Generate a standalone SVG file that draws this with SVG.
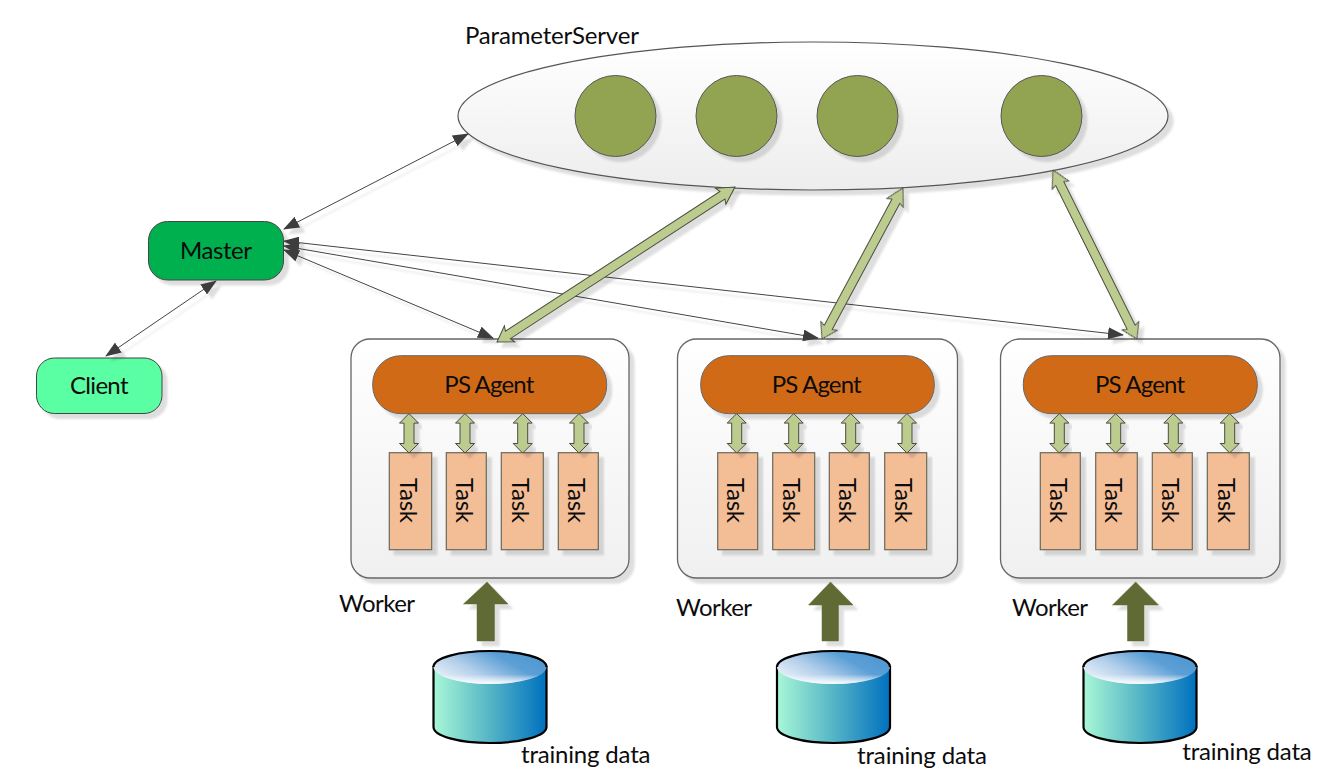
<svg xmlns="http://www.w3.org/2000/svg" width="1329" height="772" viewBox="0 0 1329 772">
<style>
text{font-family:"Lato","Open Sans","Liberation Sans",sans-serif;font-size:24px;fill:#0c0c0c}
.s{filter:url(#sh)}
.ps{fill:url(#gp);stroke:#555;stroke-width:1.2}
.w{fill:url(#gw);stroke:#666;stroke-width:1.3}
.ag{fill:#d16b19;stroke:#666;stroke-width:1}
.t{fill:#f3bd96;stroke:#6a6a5a;stroke-width:1.2}
.c{fill:#92a351;stroke:#555;stroke-width:1}
.da{fill:#bccb8e;stroke:#4a4a40;stroke-width:1}
.ln{stroke:#444;stroke-width:1;fill:none;marker-start:url(#ah);marker-end:url(#ah)}
.up{fill:#5f6b35;stroke:#5f6b35;stroke-width:.5}
.cb{fill:url(#gb);stroke:#000;stroke-width:2.2}
.ct{fill:url(#gt)}
.cf{fill:url(#gf)}
.ca{fill:none;stroke:#000;stroke-width:2.2}
</style>
<defs>
<filter id="sh" x="-10%" y="-10%" width="125%" height="125%"><feDropShadow dx="5" dy="5" stdDeviation="0.9" flood-color="#000" flood-opacity="0.13"/></filter>
<linearGradient id="gp" x1="0" y1="0" x2="0" y2="1"><stop offset="0" stop-color="#fff"/><stop offset="1" stop-color="#ededed"/></linearGradient>
<linearGradient id="gw" x1="0" y1="0" x2="0" y2="1"><stop offset="0" stop-color="#fff"/><stop offset="1" stop-color="#f0f0f0"/></linearGradient>
<linearGradient id="gb" x1="0" y1="0" x2="1" y2="0"><stop offset="0" stop-color="#a8f7d6"/><stop offset="0.5" stop-color="#55b5c6"/><stop offset="1" stop-color="#0070bf"/></linearGradient>
<linearGradient id="gt" x1="0" y1="0.8" x2="1" y2="0.25"><stop offset="0" stop-color="#eef4fa"/><stop offset="0.35" stop-color="#b3cfea"/><stop offset="0.7" stop-color="#5b9fd6"/><stop offset="1" stop-color="#4f97d0"/></linearGradient>
<linearGradient id="gf" x1="0" y1="0" x2="0" y2="1"><stop offset="0.72" stop-color="#fff" stop-opacity="0"/><stop offset="1" stop-color="#fff" stop-opacity="0.95"/></linearGradient>
<marker id="ah" viewBox="0 0 16 12" refX="15" refY="6" markerWidth="16" markerHeight="12" markerUnits="userSpaceOnUse" orient="auto-start-reverse"><path d="M0 0L16 6L0 12Z" fill="#3d3d3d"/></marker>
<g id="sd"><path class="da" d="M0-19.7L9.5-10.2H5V10.2H9.5L0 19.7L-9.5 10.2H-5V-10.2H-9.5Z"/></g>
</defs>

<g id="parameter-server">
<text x="465" y="43.5" textLength="174">ParameterServer</text>
<ellipse class="ps s" cx="813" cy="116" rx="355" ry="74"/>
<circle class="c s" cx="615.5" cy="116" r="40.5"/>
<circle class="c s" cx="736.5" cy="116" r="40.5"/>
<circle class="c s" cx="857.5" cy="116" r="40.5"/>
<circle class="c s" cx="1041.5" cy="116" r="40.5"/>
</g>

<g id="master"><rect class="s" x="148.5" y="221.5" width="135" height="58.5" rx="19" fill="#00b050" stroke="#444" stroke-width="1"/>
<text x="180" y="258.5" textLength="72">Master</text></g>
<g id="client"><rect class="s" x="36.5" y="358" width="125.5" height="55.5" rx="18" fill="#5affa3" stroke="#444" stroke-width="1"/>
<text x="70" y="393.5" textLength="58.5">Client</text></g>

<g id="worker-1">
<rect class="w s" x="351" y="339" width="278" height="239" rx="19"/>
<rect class="ag s" x="372.7" y="355.7" width="234" height="58" rx="28"/>
<text x="444.3" y="392.5" textLength="90">PS Agent</text>
<rect class="t s" x="389.3" y="452.7" width="42.4" height="97"/>
<rect class="t s" x="446.3" y="452.7" width="40" height="97"/>
<rect class="t s" x="501.3" y="452.7" width="42" height="97"/>
<rect class="t s" x="558.3" y="452.7" width="40" height="97"/>
<text transform="translate(400 478) rotate(90)" textLength="45">Task</text>
<text transform="translate(455.5 478) rotate(90)" textLength="45">Task</text>
<text transform="translate(511.7 478) rotate(90)" textLength="45">Task</text>
<text transform="translate(568 478) rotate(90)" textLength="45">Task</text>
<use class="s" href="#sd" x="409" y="433.3"/><use class="s" href="#sd" x="465" y="433.3"/><use class="s" href="#sd" x="522.7" y="433.3"/><use class="s" href="#sd" x="579" y="433.3"/>
<text x="339" y="612" textLength="76">Worker</text>
</g>

<g id="worker-2">
<rect class="w s" x="677.5" y="339" width="280" height="239" rx="19"/>
<rect class="ag s" x="700.7" y="355.7" width="233.6" height="58" rx="28"/>
<text x="771.7" y="392.5" textLength="90">PS Agent</text>
<rect class="t s" x="717.7" y="452.7" width="40" height="97"/>
<rect class="t s" x="772.7" y="452.7" width="42" height="97"/>
<rect class="t s" x="829.3" y="452.7" width="40" height="97"/>
<rect class="t s" x="884.7" y="452.7" width="42" height="97"/>
<text transform="translate(727.3 478) rotate(90)" textLength="45">Task</text>
<text transform="translate(783.3 478) rotate(90)" textLength="45">Task</text>
<text transform="translate(839.3 478) rotate(90)" textLength="45">Task</text>
<text transform="translate(895.3 478) rotate(90)" textLength="45">Task</text>
<use class="s" href="#sd" x="736.7" y="433.3"/><use class="s" href="#sd" x="793.7" y="433.3"/><use class="s" href="#sd" x="850.7" y="433.3"/><use class="s" href="#sd" x="907" y="433.3"/>
<text x="676" y="616" textLength="76">Worker</text>
</g>

<g id="worker-3">
<rect class="w s" x="1000.5" y="339" width="279.5" height="239" rx="19"/>
<rect class="ag s" x="1023.3" y="355.7" width="234" height="58" rx="28"/>
<text x="1095" y="392.5" textLength="90">PS Agent</text>
<rect class="t s" x="1040.3" y="452.7" width="40" height="97"/>
<rect class="t s" x="1095.7" y="452.7" width="41.6" height="97"/>
<rect class="t s" x="1152.3" y="452.7" width="40" height="97"/>
<rect class="t s" x="1207.3" y="452.7" width="42" height="97"/>
<text transform="translate(1050 478) rotate(90)" textLength="45">Task</text>
<text transform="translate(1105.3 478) rotate(90)" textLength="45">Task</text>
<text transform="translate(1162 478) rotate(90)" textLength="45">Task</text>
<text transform="translate(1218 478) rotate(90)" textLength="45">Task</text>
<use class="s" href="#sd" x="1059.3" y="433.3"/><use class="s" href="#sd" x="1115.7" y="433.3"/><use class="s" href="#sd" x="1173.3" y="433.3"/><use class="s" href="#sd" x="1229.7" y="433.3"/>
<text x="1012" y="616" textLength="76">Worker</text>
</g>

<g id="data-1">
<path class="cb" d="M433.5 667V727C433.5 736 459 743 490 743S546.5 736 546.5 727V667Z"/>
<ellipse class="ct" cx="490" cy="667" rx="56.5" ry="17"/><ellipse class="cf" cx="490" cy="667" rx="56.5" ry="17"/>
<path class="ca" d="M433.5 667C433.5 658 459 651 490 651S546.5 658 546.5 667"/>
<text x="521" y="763" textLength="129.5">training data</text>
</g>
<g id="data-2">
<path class="cb" d="M777 667V727C777 736 802.5 743 833.5 743S890 736 890 727V667Z"/>
<ellipse class="ct" cx="833.5" cy="667" rx="56.5" ry="17"/><ellipse class="cf" cx="833.5" cy="667" rx="56.5" ry="17"/>
<path class="ca" d="M777 667C777 658 802.5 651 833.5 651S890 658 890 667"/>
<text x="857" y="764" textLength="130">training data</text>
</g>
<g id="data-3">
<path class="cb" d="M1083.5 667V727C1083.5 736 1109 743 1140 743S1196.5 736 1196.5 727V667Z"/>
<ellipse class="ct" cx="1140" cy="667" rx="56.5" ry="17"/><ellipse class="cf" cx="1140" cy="667" rx="56.5" ry="17"/>
<path class="ca" d="M1083.5 667C1083.5 658 1109 651 1140 651S1196.5 658 1196.5 667"/>
<text x="1182.3" y="759.5" textLength="129.5">training data</text>
</g>

<g id="connectors">
<g class="s">
<path class="ln" d="M106 356L216 281"/>
<path class="ln" d="M284 229L468 134"/>
<path class="ln" d="M284 250L493 338"/>
<path class="ln" d="M284 246L818 338"/>
<path class="ln" d="M284 241L1123 335"/>
</g>
<g class="s">
<path class="da" transform="translate(497 342) rotate(-33.07)" d="M0 0L15-9.5L13-4.5H269L267-9.5L284 0L267 9.5L269 4.5H13L15 9.5Z"/>
<path class="da" transform="translate(822 339) rotate(-61.79)" d="M0 0L15-9.5L13-4.5H156.4L154.4-9.5L171.4 0L154.4 9.5L156.4 4.5H13L15 9.5Z"/>
<path class="da" transform="translate(1137 339) rotate(-116.43)" d="M0 0L15-9.5L13-4.5H173.7L171.7-9.5L188.7 0L171.7 9.5L173.7 4.5H13L15 9.5Z"/>
</g>
<g class="s">
<path class="up" d="M487 582L508 604H494.5V641H477V604H463.5Z"/>
<path class="up" d="M830.5 582L853 605H838.5V641H822V605H808.5Z"/>
<path class="up" d="M1135.7 582L1158.5 605H1144V641H1127.5V605H1112.5Z"/>
</g>
</g>
</svg>
